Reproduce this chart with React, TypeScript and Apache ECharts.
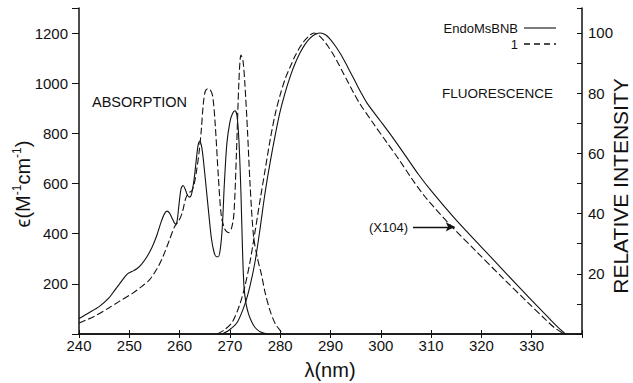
import React, { useEffect, useRef } from "react";
import * as echarts from "echarts";

// Absorption (epsilon, M^-1 cm^-1) vs wavelength (nm)
const absEndo: [number, number][] = [
  [240, 62], [242, 85], [244, 109], [246, 145], [247, 172], [248, 198], [249, 225], [249.7, 241],
  [250.5, 249], [251.5, 260], [252.5, 280], [253.5, 308], [254.5, 345], [255.5, 395], [256.3, 445],
  [257, 480], [257.5, 490], [258, 482], [258.6, 458], [259.2, 438], [259.5, 450], [259.9, 520],
  [260.3, 580], [260.7, 592], [261.1, 578], [261.6, 552], [262, 546], [262.4, 560], [262.9, 620],
  [263.4, 710], [263.7, 755], [264, 768], [264.4, 745], [264.8, 680], [265.3, 580], [265.8, 480],
  [266.3, 385], [266.8, 330], [267.3, 308], [267.7, 308], [268.1, 340], [268.5, 430], [268.9, 600],
  [269.4, 760], [270, 845], [270.5, 878], [271, 890], [271.4, 872], [271.8, 770], [272.2, 560],
  [272.5, 340], [272.8, 190], [273.2, 122], [273.7, 80], [274.3, 50], [275, 26], [276, 9], [277.4, 0],
];
const absOne: [number, number][] = [
  [240, 44], [243, 70], [246, 105], [248, 130], [250.7, 163], [252.5, 190], [254, 216], [255.5, 260],
  [256.7, 309], [258, 376], [259, 428], [259.8, 450], [260.5, 482], [261.2, 540], [261.8, 563],
  [262.4, 570], [262.9, 598], [263.4, 655], [263.9, 730], [264.3, 810], [264.7, 915], [265.1, 968],
  [265.6, 978], [266.1, 974], [266.6, 945], [267.1, 830], [267.7, 629], [268.3, 470], [269, 418],
  [269.7, 404], [270.3, 420], [270.8, 480], [271.3, 720], [271.8, 1010], [272.2, 1112], [272.6, 1090],
  [273, 990], [273.5, 810], [274, 600], [274.7, 390], [275.5, 300], [276.3, 235], [277, 165],
  [278, 92], [279, 42], [280, 14], [280.7, 0],
];
// Fluorescence (relative intensity) vs wavelength (nm)
const fluEndo: [number, number][] = [
  [268.5, 0], [270, 1.5], [271.5, 4], [273, 10], [274, 16], [275, 24], [276, 35], [277, 47],
  [278, 57], [279, 66], [280, 74], [281, 80.3], [282, 85.6], [283, 90], [284, 93.6], [285, 96.4],
  [286, 98.4], [287, 99.6], [288, 100], [289, 99.4], [290, 97.8], [291, 95.6], [292, 93],
  [293, 90], [294, 86.8], [295, 83.6], [296, 80.4], [297.3, 76.6], [300, 70.6], [302.7, 64.5],
  [305, 59], [307.5, 53], [310, 47.6], [315, 37.8], [320, 28.9], [325, 20], [330, 11.2],
  [333, 6], [335, 2.6], [336.7, 0],
];
const fluOne: [number, number][] = [
  [267.5, 0], [269, 1.5], [270.5, 4], [272, 10], [273, 16], [274, 24], [275, 34], [276, 44.5],
  [277, 54.5], [278, 64.5], [279, 73], [280, 79.5], [281, 84.8], [282, 88.8], [283, 92.5],
  [284, 95.5], [285, 97.8], [286, 99.4], [286.7, 100], [287.5, 99.4], [288.5, 97.8], [289.5, 95.6],
  [290.5, 93], [291.5, 90], [292.5, 86.8], [293.5, 83.6], [294.5, 80.4], [295.8, 76.6],
  [298.5, 70], [301.3, 63.4], [303.6, 58], [306, 52], [308.8, 45.6], [313.8, 36.2], [319, 27.4],
  [324.2, 18.7], [329.4, 10.2], [332.5, 5.2], [334.6, 2], [336.5, 0],
];

const xTickLabels = [240, 250, 260, 270, 280, 290, 300, 310, 320, 330];
const leftTickLabels = [200, 400, 600, 800, 1000, 1200];
const rightTickLabels = [20, 40, 60, 80, 100];
const legendNames = ["EndoMsBNB", "1"];
const arrowFrom: [number, number] = [306.4, 35.6];
const arrowTo: [number, number] = [314.7, 35.6];

const FONT = "Liberation Sans, Arial, sans-serif";
const INK = "#111";

export default function App() {
  const ref = useRef<HTMLDivElement>(null);
  useEffect(() => {
    if (!ref.current) return;
    document.body.style.margin = "0";
    document.body.style.overflow = "hidden";
    const chart = echarts.init(ref.current, undefined, { renderer: "svg" });
    const lineStyleSolid = { color: INK, width: 1.1, type: "solid" as const };
    const lineStyleDash = { color: INK, width: 1.1, type: [7, 3] as any };
    chart.setOption({
      animation: false,
      backgroundColor: "#fff",
      textStyle: { fontFamily: FONT, color: INK },
      grid: { left: 79, right: 51, top: 8, bottom: 49, outerBoundsMode: "none", containLabel: false },
      xAxis: [
        {
          type: "value", min: 240, max: 340, interval: 10, position: "bottom",
          axisLine: { lineStyle: { color: INK, width: 1.5 } },
          axisTick: { inside: true, length: 4, lineStyle: { color: INK } },
          axisLabel: {
            fontSize: 15, color: INK, margin: 4, fontFamily: FONT,
            formatter: (v: number) => (xTickLabels.includes(v) ? String(v) : ""),
          },
          splitLine: { show: false },
        },
        {
          type: "value", min: 240, max: 340, interval: 10, position: "top",
          axisLine: { lineStyle: { color: INK, width: 1.5 } },
          axisTick: { inside: true, length: 4, lineStyle: { color: INK } },
          axisLabel: { show: false },
          splitLine: { show: false },
        },
      ],
      yAxis: [
        {
          type: "value", min: 0, max: 1300, interval: 200, position: "left",
          axisLine: { show: true, lineStyle: { color: INK, width: 1.5 } },
          axisTick: { show: true, inside: false, length: 7, lineStyle: { color: INK } },
          axisLabel: {
            fontSize: 15, color: INK, margin: 11, fontFamily: FONT,
            formatter: (v: number) => (leftTickLabels.includes(v) ? String(v) : ""),
          },
          splitLine: { show: false },
        },
        {
          type: "value", min: 0, max: 108.3, interval: 10, position: "right",
          axisLine: { show: true, lineStyle: { color: INK, width: 1.5 } },
          axisTick: { show: true, inside: true, length: 5, lineStyle: { color: INK } },
          axisLabel: {
            fontSize: 15, color: INK, margin: 6, fontFamily: FONT,
            formatter: (v: number) => (rightTickLabels.includes(v) ? String(v) : ""),
          },
          splitLine: { show: false },
        },
      ],
      series: [
        {
          name: legendNames[0] + " abs", type: "line", xAxisIndex: 0, yAxisIndex: 0, data: absEndo,
          showSymbol: false, smooth: 0.3, lineStyle: lineStyleSolid,
        },
        {
          name: legendNames[1] + " abs", type: "line", xAxisIndex: 0, yAxisIndex: 0, data: absOne,
          showSymbol: false, smooth: 0.3, lineStyle: lineStyleDash,
        },
        {
          name: legendNames[0] + " fl", type: "line", xAxisIndex: 0, yAxisIndex: 1, data: fluEndo,
          showSymbol: false, smooth: 0.3, lineStyle: lineStyleSolid,
          markLine: {
            silent: true, symbol: ["none", "arrow"], symbolSize: [7, 9],
            lineStyle: { color: INK, width: 1.3, type: "solid" },
            label: { show: false },
            data: [[{ coord: arrowFrom }, { coord: arrowTo }]],
          },
        },
        {
          name: legendNames[1] + " fl", type: "line", xAxisIndex: 0, yAxisIndex: 1, data: fluOne,
          showSymbol: false, smooth: 0.3, lineStyle: lineStyleDash,
        },
      ],
      graphic: [
        { type: "text", left: 92, top: 94, style: { text: "ABSORPTION", fontSize: 14.5, fontFamily: FONT, fill: INK } },
        { type: "text", left: 442, top: 86, style: { text: "FLUORESCENCE", fontSize: 13.5, fontFamily: FONT, fill: INK } },
        { type: "text", x: 408, y: 227, style: { text: "(X104)", fontSize: 13, fontFamily: FONT, fill: INK, align: "right", verticalAlign: "middle" } },
        { type: "text", x: 518, y: 28, style: { text: legendNames[0], fontSize: 13, fontFamily: FONT, fill: INK, align: "right", verticalAlign: "middle" } },
        { type: "text", x: 518, y: 44, style: { text: legendNames[1], fontSize: 13, fontFamily: FONT, fill: INK, align: "right", verticalAlign: "middle" } },
        { type: "line", shape: { x1: 524, y1: 28, x2: 556, y2: 28 }, style: { stroke: INK, lineWidth: 1.1 } },
        { type: "line", shape: { x1: 524, y1: 44, x2: 556, y2: 44 }, style: { stroke: INK, lineWidth: 1.4, lineDash: [6, 4] } },
        { type: "text", x: 330, y: 370, style: { text: "λ(nm)", fontSize: 20, fontFamily: FONT, fill: INK, align: "center", verticalAlign: "middle" } },
        {
          type: "text", x: 22, y: 184, rotation: Math.PI / 2,
          style: {
            text: "{a|ϵ(M}{s|-1}{a|cm}{s|-1}{a|)}", align: "center", verticalAlign: "middle", fill: INK,
            rich: {
              a: { fontSize: 20, fontFamily: FONT, fill: INK, lineHeight: 22, verticalAlign: "bottom" },
              s: { fontSize: 12, fontFamily: FONT, fill: INK, lineHeight: 22, verticalAlign: "top" },
            },
          },
        },
        {
          type: "text", x: 620, y: 186, rotation: Math.PI / 2,
          style: { text: "RELATIVE INTENSITY", fontSize: 21, fontFamily: FONT, fill: INK, align: "center", verticalAlign: "middle" },
        },
      ],
    });
    return () => chart.dispose();
  }, []);
  return <div ref={ref} style={{ position: "fixed", left: 0, top: 0, width: 633, height: 383 }} />;
}
